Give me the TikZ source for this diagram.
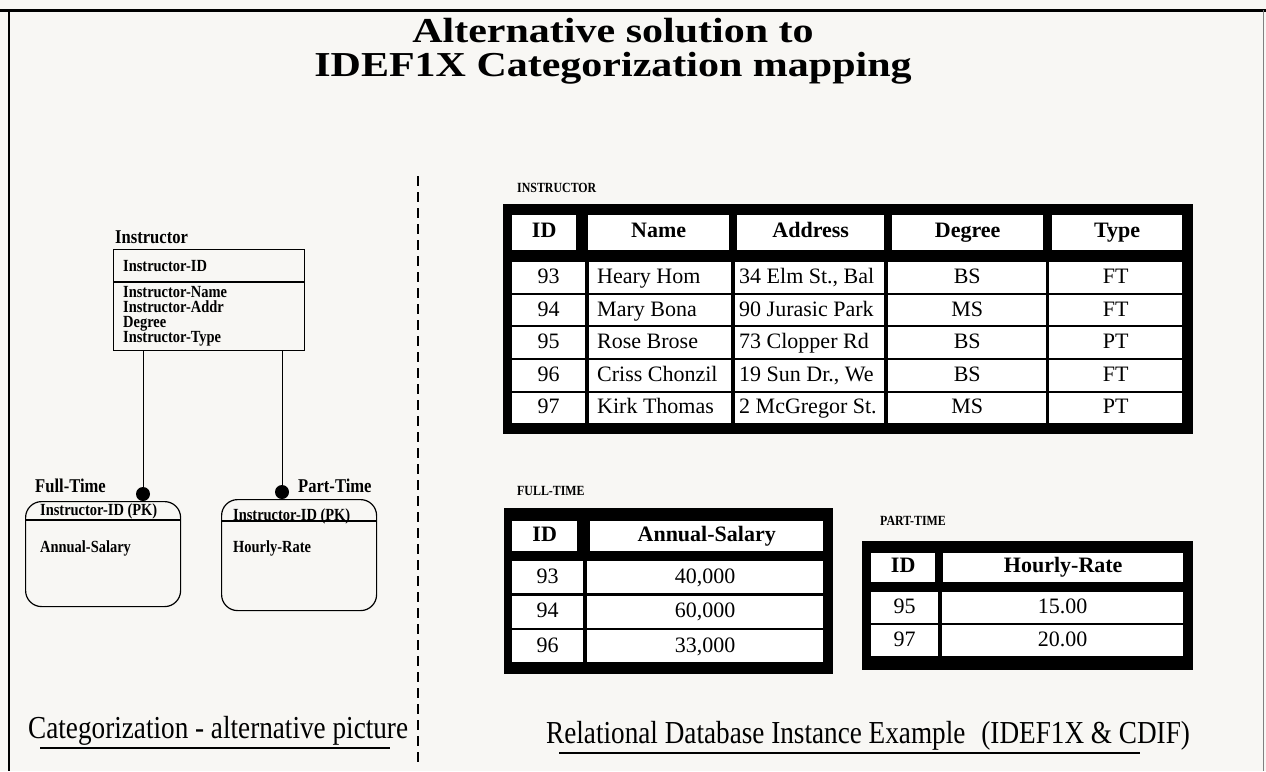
\documentclass[tikz,border=0pt]{standalone}
\usepackage{fontspec}
\setmainfont{Liberation Serif}
\newfontfamily\narrowfont[FakeStretch=0.85]{Liberation Serif}
\newfontfamily\widefont[FakeStretch=1.2]{Liberation Serif}
\usetikzlibrary{positioning}
\definecolor{paper}{RGB}{248,247,244}

\begin{document}
\begin{tikzpicture}[x=1pt, y=-1pt,
		entity/.style = {draw, line width=1.2pt, anchor=north west, inner sep=0pt},
		catbox/.style = {draw, line width=1.2pt, rounded corners=16pt, anchor=north west, inner sep=0pt},
		attr/.style = {anchor=west, inner sep=0pt, align=left, font=\narrowfont\bfseries\fontsize{17}{15}\selectfont},
		lbl/.style = {anchor=west, inner sep=0pt, font=\narrowfont\bfseries\fontsize{19.5}{19.5}\selectfont},
		head/.style = {inner sep=0pt, font=\widefont\bfseries\fontsize{35}{35}\selectfont},
		dot/.style = {circle, fill=black, minimum size=14pt, inner sep=0pt},
		tag/.style = {anchor=west, inner sep=0pt, font=\narrowfont\bfseries\fontsize{14}{14}\selectfont},
		tblframe/.style = {fill=black, anchor=north west, inner sep=0pt},
		cell/.style = {fill=white, anchor=north west, inner sep=0pt},
		htext/.style = {text height=15pt, text depth=5pt, font=\bfseries\fontsize{22}{22}\selectfont},
		dtext/.style = {inner sep=0pt, text height=15pt, text depth=3pt, font=\fontsize{22}{22}\selectfont},
		caption/.style = {inner sep=0pt, font=\narrowfont\fontsize{32}{32}\selectfont}
	]
	\useasboundingbox[fill=paper] (0,0) rectangle (1266,771);
	% Page frame.
	\draw[line width=3pt] (0,10) -- (1266,10);
	\draw[line width=2pt] (9,10) -- (9,771);
	\draw[line width=0.8pt, gray] (1263,10) -- (1263,771);
	
	\node[head, anchor=north] (title) at (613,18) {Alternative solution to};
	\node[head, below=9pt of title] (subtitle) {IDEF1X Categorization mapping};
	\draw[line width=1.8pt, dash pattern=on 10pt off 6pt] (418,176) -- (418,765);
	
	% Entity Instructor.
	\node[lbl] (instrlbl) at (115,237) {Instructor};
	\node[entity, minimum width=191, minimum height=101] (instr) at (113,249) {};
	\draw[line width=1.2pt] (113,282) -- (304,282);
	\node[attr] (instrkey) at (123,266) {Instructor-ID};
	\node[attr, anchor=north west] (instrattr) at (123,286)
		{Instructor-Name\\Instructor-Addr\\Degree\\Instructor-Type};
	% Category Full-Time.
	\node[catbox, minimum width=155, minimum height=105] (full) at (25,501) {};
	\draw[line width=1.2pt] (25,520) -- (180,520);
	\node[lbl] (fulllbl) at (35,486) {Full-Time};
	\node[attr] (fullkey) at (40,511) {Instructor-ID (PK)};
	\node[attr] (fullattr) at (40,548) {Annual-Salary};
	% Category Part-Time.
	\node[catbox, minimum width=155, minimum height=111] (part) at (221,499) {};
	\draw[line width=1.2pt] (221,521) -- (376,521);
	\node[lbl] (partlbl) at (298,486) {Part-Time};
	\node[attr] (partkey) at (233,516) {Instructor-ID (PK)};
	\node[attr] (partattr) at (233,548) {Hourly-Rate};
	
	\node[dot] (fulldot) at (143,494) {};
	\node[dot] (partdot) at (282,492) {};
	\draw[line width=1pt] (fulldot |- instr.south) -- (fulldot);
	\draw[line width=1pt] (partdot |- instr.south) -- (partdot);
	
	% Table INSTRUCTOR.
	\node[tag] (instrtag) at (517,188) {INSTRUCTOR};
	\node[tblframe, minimum width=690, minimum height=230] (itab) at (503,204) {};
	\foreach \x/\w/\t in {512/64/ID, 588/141/Name, 737/147/Address, 892/151/Degree, 1052/130/Type}
		\node[cell, htext, minimum width=\w, minimum height=35] (ih\t) at (\x,215) {\t};
	\foreach \i/\id/\name/\addr/\deg/\typ in {0/93/Heary Hom/34 Elm St.{,} Bal/BS/FT,
			1/94/Mary Bona/90 Jurasic Park/MS/FT, 2/95/Rose Brose/73 Clopper Rd/BS/PT,
			3/96/Criss Chonzil/19 Sun Dr.{,} We/BS/FT, 4/97/Kirk Thomas/2 McGregor St./MS/PT} {
		\pgfmathsetmacro{\ry}{262+32.6*\i}
		\node[cell, dtext, minimum width=73, minimum height=30.6] (iid\i) at (512,\ry) {\id};
		\node[cell, minimum width=142, minimum height=30.6] (iname\i) at (589,\ry) {};
		\node[dtext, anchor=west] (inamet\i) at ([xshift=8pt]iname\i.west) {\name};
		\node[cell, minimum width=149, minimum height=30.6] (iaddr\i) at (735,\ry) {};
		\begin{scope}
			\clip (iaddr\i.north west) rectangle (iaddr\i.south east);
			\node[dtext, anchor=west] (iaddrt\i) at ([xshift=4pt]iaddr\i.west) {\addr};
		\end{scope}
		\node[cell, dtext, minimum width=158, minimum height=30.6] (ideg\i) at (888,\ry) {\deg};
		\node[cell, dtext, minimum width=133, minimum height=30.6] (ityp\i) at (1049,\ry) {\typ};
	}
	
	% Table FULL-TIME.
	\node[tag] (fulltag) at (517,491) {FULL-TIME};
	\node[tblframe, minimum width=329, minimum height=166] (ftab) at (504,508) {};
	\node[cell, htext, minimum width=65, minimum height=30] (fhid) at (512,521) {ID};
	\node[cell, htext, minimum width=233, minimum height=30] (fhsal) at (590,521) {Annual-Salary};
	\foreach \i/\id/\val in {0/93/40{,}000, 1/94/60{,}000, 2/96/33{,}000} {
		\pgfmathsetmacro{\ry}{561+34.5*\i}
		\node[cell, dtext, minimum width=71, minimum height=32] (fid\i) at (512,\ry) {\id};
		\node[cell, dtext, minimum width=236, minimum height=32] (fsal\i) at (587,\ry) {\val};
	}
	
	% Table PART-TIME.
	\node[tag] (parttag) at (880,521) {PART-TIME};
	\node[tblframe, minimum width=331, minimum height=129] (ptab) at (862,541) {};
	\node[cell, htext, minimum width=64, minimum height=29] (phid) at (871,553) {ID};
	\node[cell, htext, minimum width=240, minimum height=29] (phrate) at (943,553) {Hourly-Rate};
	\foreach \i/\id/\val in {0/95/15.00, 1/97/20.00} {
		\pgfmathsetmacro{\ry}{592+33*\i}
		\node[cell, dtext, minimum width=67, minimum height=31] (pid\i) at (871,\ry) {\id};
		\node[cell, dtext, minimum width=241, minimum height=31] (prate\i) at (942,\ry) {\val};
	}
	
	% Captions.
	\node[caption, anchor=base west] (leftcap) at (28,738) {Categorization - alternative picture};
	\draw[line width=1.5pt] (40,748) -- (390,748);
	\node[caption, anchor=base west] (rightcap) at (546,743) {Relational Database Instance Example\enspace(IDEF1X \& CDIF)};
	\draw[line width=1.5pt] (559,753) -- (1140,753);
\end{tikzpicture}
\end{document}
